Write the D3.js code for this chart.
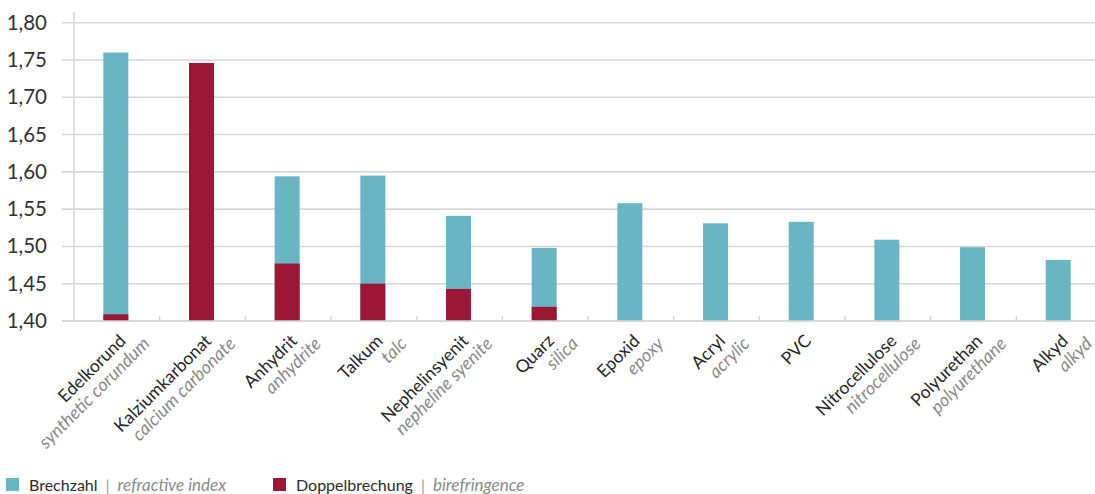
<!DOCTYPE html>
<html>
<head>
<meta charset="utf-8">
<script src="https://cdn.jsdelivr.net/npm/d3@7"></script>
<style>
  html, body { margin: 0; padding: 0; background: #fff; }
  svg { display: block; font-family: Lato, "Open Sans", sans-serif; }
</style>
</head>
<body>
<svg id="chart" width="1095" height="494"></svg>
<script>
// Materials: German name and English name
const categories = ["Edelkorund", "Kalziumkarbonat", "Anhydrit", "Talkum", "Nephelinsyenit", "Quarz",
                    "Epoxid", "Acryl", "PVC", "Nitrocellulose", "Polyurethan", "Alkyd"];
const categoriesEn = ["synthetic corundum", "calcium carbonate", "anhydrite", "talc", "nepheline syenite", "silica",
                      "epoxy", "acrylic", "", "nitrocellulose", "polyurethane", "alkyd"];
// Refractive index (Brechzahl)
const refractive = [1.760, null, 1.594, 1.595, 1.541, 1.498, 1.558, 1.531, 1.533, 1.509, 1.499, 1.482];
// Birefringence (Doppelbrechung), drawn on top from the same baseline
const birefringence = [1.409, 1.746, 1.477, 1.450, 1.443, 1.419, null, null, null, null, null, null];
const yTicks = [1.40, 1.45, 1.50, 1.55, 1.60, 1.65, 1.70, 1.75, 1.80];

const colors = { refractive: "#69b5c3", birefringence: "#9c1635" };

const svg = d3.select("#chart");
const plotLeft = 74, plotRight = 74 + 12 * 85.67, plotTop = 22.7, plotBottom = 321;

const x = d3.scaleBand().domain(categories).range([plotLeft, plotRight]).padding(0);
const y = d3.scaleLinear().domain([1.40, 1.80]).range([plotBottom, plotTop]);
const barW = 25;

// Horizontal gridlines
svg.append("g").selectAll("line").data(yTicks).join("line")
  .attr("x1", 62).attr("x2", 1095)
  .attr("y1", d => y(d)).attr("y2", d => y(d))
  .attr("stroke", "#d6d6d6").attr("stroke-width", 1.6);

// Vertical axis line
svg.append("line")
  .attr("x1", plotLeft).attr("x2", plotLeft).attr("y1", 12).attr("y2", plotBottom)
  .attr("stroke", "#d6d6d6").attr("stroke-width", 1.6);

// Y tick labels
const fmt = d => d3.format(".2f")(d).replace(".", ",");
svg.append("g").selectAll("text").data(yTicks).join("text")
  .attr("x", 47).attr("y", d => y(d) + 7)
  .attr("text-anchor", "end")
  .attr("font-size", 20.5)
  .attr("fill", "#333")
  .text(fmt);

// Small ticks between categories on the baseline
svg.append("g").selectAll("line").data(categories.slice(1)).join("line")
  .attr("x1", d => x(d)).attr("x2", d => x(d))
  .attr("y1", plotBottom - 5).attr("y2", plotBottom)
  .attr("stroke", "#d6d6d6").attr("stroke-width", 1.4);

const barX = c => x(c) + (x.bandwidth() - barW) / 2 - 1;

// Refractive index bars
svg.append("g").selectAll("rect")
  .data(categories.map((c, i) => ({ c, v: refractive[i] })).filter(d => d.v != null))
  .join("rect")
  .attr("x", d => barX(d.c)).attr("width", barW)
  .attr("y", d => y(d.v)).attr("height", d => y(1.40) - y(d.v))
  .attr("fill", colors.refractive);

// Birefringence bars
svg.append("g").selectAll("rect")
  .data(categories.map((c, i) => ({ c, v: birefringence[i] })).filter(d => d.v != null))
  .join("rect")
  .attr("x", d => barX(d.c)).attr("width", barW)
  .attr("y", d => y(d.v)).attr("height", d => y(1.40) - y(d.v))
  .attr("fill", colors.birefringence);

// Baseline on top of bars
svg.append("line")
  .attr("x1", 62).attr("x2", 1095).attr("y1", plotBottom).attr("y2", plotBottom)
  .attr("stroke", "#d6d6d6").attr("stroke-width", 1.6);

// Rotated two-line category labels (45° upward)
const labels = svg.append("g");
categories.forEach((c, i) => {
  const cx = x(c) + x.bandwidth() / 2 + 10;
  const cy = plotBottom + 21;
  labels.append("text")
    .attr("transform", `translate(${cx},${cy}) rotate(-45)`)
    .attr("text-anchor", "end")
    .attr("font-size", 17.5).attr("fill", "#262626")
    .text(c);
  labels.append("text")
    .attr("transform", `translate(${cx},${cy}) rotate(-45) translate(15,19)`)
    .attr("text-anchor", "end")
    .attr("font-size", 18).attr("font-style", "italic").attr("fill", "#8a8a8a")
    .text(categoriesEn[i]);
});

// Legend
const legendItems = [
  { de: "Brechzahl", en: "refractive index", color: colors.refractive, x: 6 },
  { de: "Doppelbrechung", en: "birefringence", color: colors.birefringence, x: 273 }
];
const lg = svg.append("g").selectAll("g").data(legendItems).join("g")
  .attr("transform", d => `translate(${d.x},0)`);
lg.append("rect").attr("x", 0).attr("y", 478).attr("width", 13).attr("height", 13)
  .attr("fill", d => d.color);
const lt = lg.append("text").attr("x", 23).attr("y", 491).attr("font-size", 16);
lt.append("tspan").attr("fill", "#2b2b2b").text(d => d.de);
lt.append("tspan").attr("fill", "#9a9a9a").attr("dx", 8).text("|");
lt.append("tspan").attr("fill", "#8a8a8a").attr("font-style", "italic").attr("dx", 8)
  .attr("font-size", 17).text(d => d.en);
</script>
</body>
</html>
